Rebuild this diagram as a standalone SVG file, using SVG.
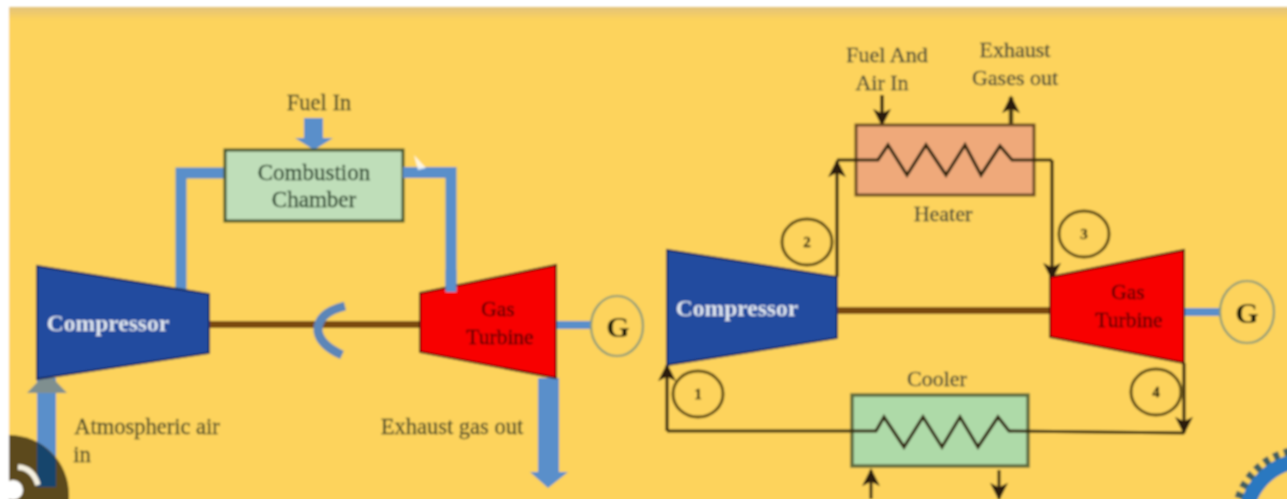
<svg xmlns="http://www.w3.org/2000/svg" width="1287" height="499" viewBox="0 0 1287 499">
<defs>
<filter id="soft" x="-2%" y="-2%" width="104%" height="104%"><feGaussianBlur stdDeviation="0.9"/></filter>
<linearGradient id="shade" x1="0" y1="0" x2="0" y2="1"><stop offset="0" stop-color="#e2c27a"/><stop offset="1" stop-color="#fdd35c"/></linearGradient>
<marker id="ah" viewBox="0 0 10 10" refX="9" refY="5" markerWidth="18" markerHeight="18" markerUnits="userSpaceOnUse" orient="auto"><path d="M0 0L10 5L0 10L2.5 5Z" fill="#2a1e08"/></marker>
</defs>
<style>
text{font-family:"Liberation Serif","Times New Roman",serif;text-anchor:middle;stroke-width:.3}
.lbl{font-size:22.500px;fill:#45462a;stroke:#45462a}
.lbr{font-size:22px;fill:#3c4238;stroke:#3c4238}
.box{font-size:23px;fill:#1f3a22;stroke:#1f3a22}
.cmp{font-size:23.500px;font-weight:bold;fill:#dfe6ef}
.gas{font-size:21.500px;fill:#4d0808;stroke:#4d0808}
.g{font-size:30px;font-weight:bold;fill:#1e1e0e}
.num{font-size:15px;font-weight:bold;fill:#2c2610;stroke:#2c2610}
.pipe{fill:none;stroke:#5a8fca;stroke-width:11}
.shaft{fill:none;stroke:#7a4a0c;stroke-width:7}
.gl{fill:none;stroke:#5a8fca;stroke-width:8}
.gc{fill:#fdd35c;stroke:#8a9a78;stroke-width:2.2}
.nc{fill:none;stroke:#5e4b12;stroke-width:3}
.cm{fill:#234b9f;stroke:#13275a;stroke-width:2}
.tb{fill:#f80404;stroke:#3a0c10;stroke-width:2}
.wire{fill:none;stroke:#33260a;stroke-width:3.200}
.arrow{fill:#5a8fca}
</style>
<rect width="1287" height="499" fill="#ffffff"/>
<g filter="url(#soft)">
<rect x="9" y="8" width="1290" height="500" fill="#fdd35c"/>
<rect x="9" y="7" width="1290" height="13" fill="url(#shade)"/>
<rect x="-5" y="-5" width="14" height="510" fill="#ffffff"/>
<g id="connectors">
<path class="pipe" d="M181 291V173H226"/>
<path class="pipe" d="M403 172.500H451V292"/>
<path class="shaft" d="M209 324.500H420"/>
<path d="M345 306Q317 313 318 331Q320 345 342 355" fill="none" stroke="#5b86b8" stroke-width="9"/>
<path class="gl" d="M556 325H592"/>
<rect class="arrow" x="37" y="378" width="19" height="112"/>
<path d="M27 393L47 372L67 393Z" fill="#7f8f8f"/>
<path class="arrow" d="M304 118H323V138H333L314 150L295 138H304Z"/>
<path class="arrow" d="M538 378H559V472H568L548 488L530 472H538Z"/>
<path class="shaft" d="M837 310.500H1050"/>
<path class="gl" d="M1184 312H1221"/>
<path class="wire" d="M837 277V161" marker-end="url(#ah)"/>
<path class="wire" d="M1052 160V279" marker-end="url(#ah)"/>
<path class="wire" d="M667 431V365" marker-end="url(#ah)"/>
<path class="wire" d="M1184 363V433" marker-end="url(#ah)"/>
<path d="M882 95V125" fill="none" stroke="#33260c" stroke-width="3.500" marker-end="url(#ah)"/>
<path d="M1011 125V97" fill="none" stroke="#4a3a14" stroke-width="4.500" marker-end="url(#ah)"/>
<path d="M871 499V470" fill="none" stroke="#33260c" stroke-width="3" marker-end="url(#ah)"/>
<path d="M999 470V499" fill="none" stroke="#33260c" stroke-width="3" marker-end="url(#ah)"/>
</g>
<g id="chamber"><rect x="225" y="150" width="178" height="71" fill="#bfdeb9" stroke="#47552c" stroke-width="3"/>
<text class="box" x="314" y="180">Combustion</text><text class="box" x="314" y="207">Chamber</text></g>
<path class="pipe" d="M403 172.500H425"/>
<path d="M414 155L426 168L418 170Z" fill="#fff" opacity=".8"/>
<g id="fuel-label"><text class="lbl" x="319" y="110">Fuel In</text></g>
<g id="compressor-left"><path class="cm" d="M37 266L209 294V353L37 379Z"/><text class="cmp" x="108" y="331">Compressor</text></g>
<g id="turbine-left"><path class="tb" d="M420 293L556 265V378L420 352Z"/><text class="gas" x="498" y="316">Gas</text><text class="gas" x="500" y="344">Turbine</text></g>
<path class="pipe" d="M451 270V292"/>
<g id="generator-left"><ellipse class="gc" cx="617" cy="326" rx="26" ry="30"/><text class="g" x="618" y="337">G</text></g>
<g id="air-label"><text class="lbl" x="147" y="434">Atmospheric air</text><text class="lbl" x="82" y="462">in</text></g>
<g id="exhaust-label"><text class="lbl" x="452" y="434">Exhaust gas out</text></g>
<g id="compressor-right"><path class="cm" d="M667 250L837 277V338L667 365Z"/><text class="cmp" x="737" y="316">Compressor</text></g>
<g id="turbine-right"><path class="tb" d="M1050 277L1184 250V363L1050 337Z"/><text class="gas" x="1128" y="299">Gas</text><text class="gas" x="1129" y="327">Turbine</text></g>
<g id="generator-right"><ellipse class="gc" cx="1247" cy="312" rx="27" ry="31"/><text class="g" x="1247" y="323">G</text></g>
<g id="heater"><rect x="856" y="125" width="178" height="70" fill="#efa97a" stroke="#6b4a20" stroke-width="3"/>
<path class="wire" d="M837 160H878L888 145L907 175L926 145L946 175L965 145L981 175L1000 146L1012 160H1052"/>
<text class="lbr" x="943" y="221">Heater</text></g>
<g id="cooler"><rect x="852" y="395" width="176" height="71" fill="#aedaa8" stroke="#5e6a3c" stroke-width="3.500"/>
<path class="wire" d="M667 431H876L884 417L904 447L923 417L942 447L960 417L978 447L998 417L1009 431L1184 433"/>
<text class="lbr" x="937" y="386">Cooler</text></g>
<g id="labels-right"><text class="lbr" x="887" y="62">Fuel And</text><text class="lbr" x="882" y="90">Air In</text><text class="lbr" x="1015" y="57">Exhaust</text><text class="lbr" x="1015" y="85">Gases out</text></g>
<g id="state-2"><ellipse class="nc" cx="807" cy="242" rx="25" ry="23"/><text class="num" x="807" y="247">2</text></g>
<g id="state-3"><ellipse class="nc" cx="1084" cy="234" rx="25" ry="23"/><text class="num" x="1084" y="239">3</text></g>
<g id="state-1"><ellipse class="nc" cx="698" cy="394" rx="25" ry="23"/><text class="num" x="698" y="399">1</text></g>
<g id="state-4"><ellipse class="nc" cx="1156" cy="392" rx="25" ry="23"/><text class="num" x="1156" y="397">4</text></g>
<g id="gear"><circle cx="1305" cy="520" r="70" fill="none" stroke="#3f5f60" stroke-width="8" stroke-dasharray="6 5"/><circle cx="1305" cy="520" r="59" fill="none" stroke="#2b78c0" stroke-width="15"/></g>
<path d="M9 435A60 60 0 0 1 69 495V505H9Z" fill="#5c4a1e"/>
<path d="M37 442A60 60 0 0 1 56 459V487H37Z" fill="#17446c"/>
<path d="M18 467Q33 468 38 485" fill="none" stroke="#f5f0e0" stroke-width="5.500"/>
<circle cx="13" cy="490" r="10" fill="#fff"/>
<rect x="-5" y="425" width="14" height="80" fill="#fff"/>
</g>
</svg>
